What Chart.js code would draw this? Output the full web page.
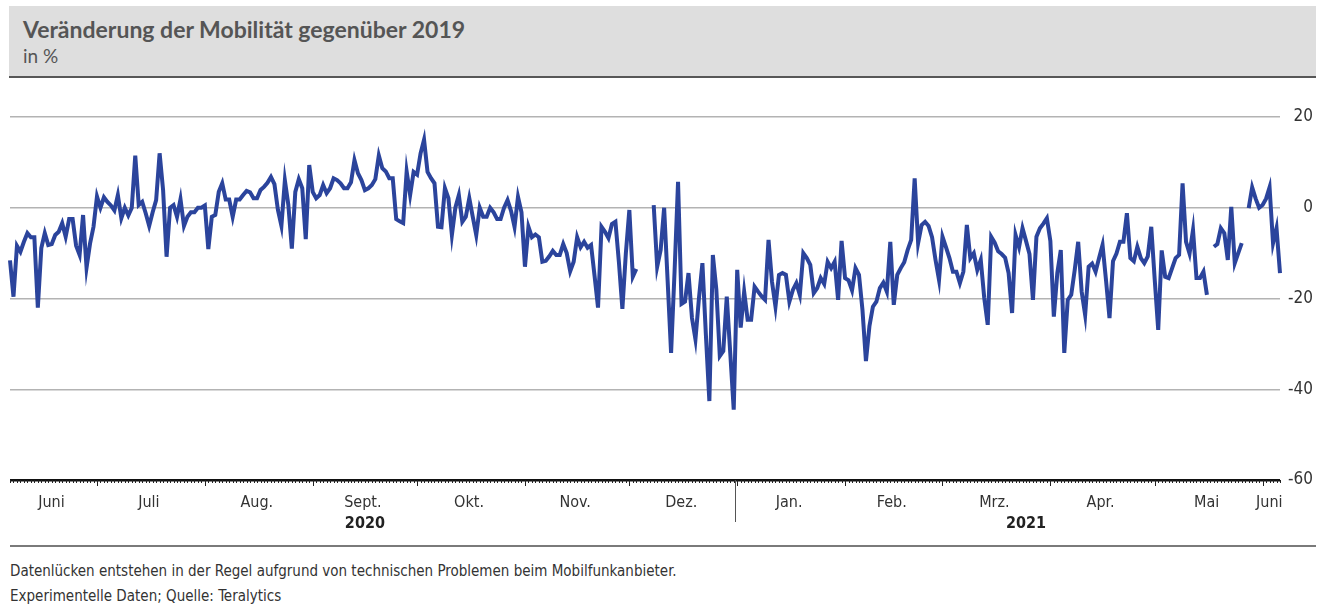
<!DOCTYPE html>
<html lang="de">
<head>
<meta charset="utf-8">
<script src="https://cdn.jsdelivr.net/npm/chart.js@4.4.1/dist/chart.umd.min.js"></script>
<style>
  body { margin: 0; background: #fff; width: 1326px; height: 605px; overflow: hidden; position: relative; }
  .head { position: absolute; left: 9px; top: 6px; width: 1307px; height: 70px; background: #dedede; border-bottom: 2px solid #575757; }
  .head h1 { margin: 0; position: absolute; left: 14px; top: 9px; font: bold 23px "Lato", sans-serif; color: #555; }
  .head .unit { position: absolute; left: 14px; top: 38px; font: 19px "Lato", sans-serif; color: #555; }
  .chart-box { position: absolute; left: 0; top: 90px; width: 1326px; height: 455px; }
  .foot-line { position: absolute; left: 10px; top: 545px; width: 1306px; height: 0; border-top: 2px solid #7a7a7a; }
  .note { position: absolute; left: 10px; font: 15px "Liberation Sans Narrow", "DejaVu Sans Condensed", sans-serif; color: #333; }
</style>
</head>
<body>
<div class="head">
  <h1>Veränderung der Mobilität gegenüber 2019</h1>
  <div class="unit">in %</div>
</div>
<div class="chart-box"><canvas id="myChart1"></canvas></div>
<div class="foot-line"></div>
<div class="note" style="top:562px">Datenlücken entstehen in der Regel aufgrund von technischen Problemen beim Mobilfunkanbieter.</div>
<div class="note" style="top:587px">Experimentelle Daten; Quelle: Teralytics</div>

<script>
// Erster Tag der Reihe (06.06.2020), danach ein Wert pro Tag
const startDay = [2020, 5, 6];

// Veränderung gegenüber 2019 in %, null = Datenlücke
const mobilitaet = [
  -11.6, -19.6, -8.4, -9.7, -7.5, -5.6, -6.5, -6.5, -22, -8.9,
  -5.6, -8.2, -8, -6, -5.3, -3.4, -6.4, -2.5, -2.5, -8.4,
  -10.4, -1.6, -13.2, -7.9, -4.2, 2.5, 0, 2.3, 1.3, 0.5,
  -0.6, 2.8, -2.3, 0, -1.7, 0, 11.5, 0.6, 1.3, -1.2,
  -4, -1, 1.7, 12, 3.9, -10.8, 0, 0.6, -2, 1.9,
  -4, -2, -1, -1, 0, 0, 0.5, -9.1, -2, -1.6,
  3.5, 5.4, 1.8, 1.8, -2, 1.8, 1.8, 2.8, 3.7, 3.4,
  2.1, 2.1, 3.9, 4.6, 5.5, 6.8, 5.2, -0.5, -4, 6,
  0.6, -9, 3.5, 6.3, 4.3, -6.9, 9.4, 3.5, 2.1, 2.8,
  5, 3.2, 4.3, 6.5, 6.1, 5.4, 4.3, 4.3, 5.6, 10.5,
  7.6, 6.1, 3.9, 4.3, 5, 6.3, 11.5, 8.7, 8, 6.5,
  6.5, -2.5, -3, -3.4, 8, 2.8, 7.9, 7.3, 12, 15,
  7.9, 6.5, 5.4, -4.2, -4.3, 4.3, 2.1, -6, 0, 2.8,
  -3.1, -2, 2.1, -2, -6, 0, -2, -2, 0, -1,
  -2.5, -2.5, 0, 1.7, -0.7, -4.2, 2.4, -1, -13, -4.2,
  -6.5, -5.9, -6.5, -11.9, -11.7, -10.7, -9.5, -10.4, -10.4, -8,
  -10, -14, -11.9, -6.5, -8.7, -7.5, -8.8, -8.2, -15, -22,
  -4.2, -5.3, -6.7, -3.6, -3.1, -12, -22.3, -10, -0.5, -15.2,
  -13.5, null, null, null, null, 0.6, -13, -9.3, 0, -16,
  -32, -14, 5.7, -21.2, -20.7, -14.4, -24.3, -29, -20, -12.2,
  -28, -42.6, -10.4, -18, -32.7, -31.6, -19.6, -32, -44.5, -13.7,
  -26.4, -18.5, -24.7, -24.7, -17.4, -18.5, -19.5, -20.3, -7.1, -16.3,
  -21.8, -14.8, -14.4, -14.8, -20.7, -18.1, -16.6, -19.2, -10, -11.1,
  -12.6, -18.8, -17.7, -15.5, -16.8, -11.9, -13.3, -11.9, -20.3, -7.3,
  -15.5, -16, -18.2, -13.3, -14.8, -22.5, -33.8, -26.1, -21.8, -20.7,
  -17.7, -16.5, -18.5, -7.5, -21.4, -14.8, -13.3, -12, -9.3, -7.1,
  6.5, -7.8, -3.8, -3.1, -4, -6.5, -11.5, -15.9, -6.4, -8.7,
  -11.1, -14.1, -14.1, -16.6, -14.1, -3.8, -11.1, -10, -13.7, -11.5,
  -19.9, -25.8, -6.4, -7.7, -9.6, -10.2, -11, -14.4, -23.2, -6,
  -8.7, -4.5, -7.3, -10.2, -20.3, -6.4, -4.5, -3.5, -2.3, -7.3,
  -24, -14.4, -9.3, -32, -20.3, -19.2, -13.7, -7.5, -18.5, -23.6,
  -13, -12.3, -14.1, -11.1, -8.2, -16, -24.3, -11.8, -10.1, -7.5,
  -7.5, -1.2, -11.1, -11.8, -8.6, -11.1, -12.2, -10.7, -4.2, -15.9,
  -26.9, -9.4, -15.2, -15.5, -13.3, -11.1, -10.4, 5.4, -7.5, -10.1,
  -4.9, -15.5, -15.5, -14.1, -19.2, null, -8.6, -8, -4.5, -5.6,
  -11.5, 0.2, -12.2, -10, -7.8, null, -0.1, 4.5, 2, 0,
  0.6, 2, 4.5, -7.8, -4.5, -14.4
];

// Achsenbeschriftung
const monatsLabels = ['Jan.', 'Feb.', 'Mrz.', 'Apr.', 'Mai', 'Juni', 'Juli', 'Aug.', 'Sept.', 'Okt.', 'Nov.', 'Dez.'];
const jahresLabels = ['2020', '2021'];
const yTicks = [20, 0, -20, -40, -60];

const fontNarrow = '"Liberation Sans Narrow", "DejaVu Sans Condensed", sans-serif';

// Datum je Tag
const tage = mobilitaet.map((_, i) => new Date(startDay[0], startDay[1], startDay[2] + i));
const labels = tage.map(d => d.toISOString().slice(0, 10));

// Zeichnet Tagesstriche, Monate und Jahre unter die Grafik
const zeitAchse = {
    id: 'zeitAchse',
    afterDraw(chart) {
        const ctx = chart.ctx;
        const xs = chart.scales.x;
        const area = chart.chartArea;
        const y0 = area.bottom;

        ctx.save();
        ctx.strokeStyle = '#222';
        ctx.lineWidth = 1;
        tage.forEach((d, i) => {
            const x = Math.round(xs.getPixelForValue(i)) + 0.5;
            const len = d.getDate() === 1 ? 6 : 3;
            ctx.beginPath();
            ctx.moveTo(x, y0);
            ctx.lineTo(x, y0 + len);
            ctx.stroke();
        });

        // Monatsabschnitte
        const abschnitte = [];
        tage.forEach((d, i) => {
            if (i === 0 || d.getDate() === 1) {
                abschnitte.push({ start: i, monat: d.getMonth(), jahr: d.getFullYear() });
            }
        });
        ctx.fillStyle = '#333';
        ctx.font = '16px ' + fontNarrow;
        ctx.textAlign = 'center';
        ctx.textBaseline = 'alphabetic';
        abschnitte.forEach((a, k) => {
            const x1 = xs.getPixelForValue(a.start);
            const x2 = k + 1 < abschnitte.length ? xs.getPixelForValue(abschnitte[k + 1].start) : area.right;
            ctx.fillText(monatsLabels[a.monat], (x1 + x2) / 2 - 2, y0 + 27);
        });

        // Jahrestrenner am 1. Januar
        const jan = tage.findIndex(d => d.getMonth() === 0 && d.getDate() === 1);
        const xj = Math.round(xs.getPixelForValue(jan)) - 1.5;
        ctx.strokeStyle = '#555';
        ctx.beginPath();
        ctx.moveTo(xj, y0);
        ctx.lineTo(xj, y0 + 42);
        ctx.stroke();

        ctx.font = 'bold 16px ' + fontNarrow;
        ctx.fillStyle = '#222';
        ctx.fillText(jahresLabels[0], xs.getPixelForValue(102), y0 + 48);
        ctx.fillText(jahresLabels[1], xs.getPixelForValue(292), y0 + 48);
        ctx.restore();
    }
};

new Chart(document.getElementById('myChart1'), {
    type: 'line',
    data: {
        labels: labels,
        datasets: [{
            data: mobilitaet,
            borderColor: '#2b449c',
            borderWidth: 4,
            pointRadius: 0,
            tension: 0,
            spanGaps: false,
            borderJoinStyle: 'miter'
        }]
    },
    options: {
        responsive: true,
        maintainAspectRatio: false,
        animation: false,
        layout: { padding: { left: 10, right: 13, top: 27, bottom: 65 } },
        plugins: { legend: { display: false }, tooltip: { enabled: false } },
        scales: {
            x: {
                type: 'category',
                display: false,
                offset: false
            },
            y: {
                position: 'right',
                min: -60,
                max: 20,
                afterFit(scale) {
                    // feste Breite, Labelabstand soll oben/unten keinen Rand erzeugen
                    scale.width = 33;
                    scale.paddingTop = 9;
                    scale.paddingBottom = 9;
                },
                afterBuildTicks(scale) { scale.ticks = yTicks.map(v => ({ value: v })); },
                grid: {
                    drawTicks: false,
                    color: ctx => ctx.tick.value === -60 ? '#111' : '#b3b3b3',
                    lineWidth: ctx => ctx.tick.value === -60 ? 2.5 : 1.5
                },
                border: { display: false },
                ticks: {
                    crossAlign: 'far',
                    padding: 36,
                    color: '#333',
                    font: { family: fontNarrow, size: 17 }
                }
            }
        }
    },
    plugins: [zeitAchse]
});
</script>
</body>
</html>
